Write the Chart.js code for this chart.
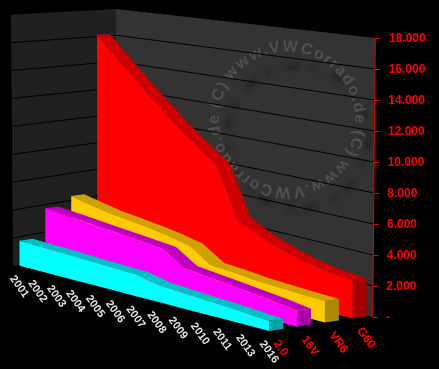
<!DOCTYPE html>
<html>
<head>
<meta charset="utf-8">
<style>html,body{margin:0;padding:0;background:#000}canvas{display:block}</style>
<script src="https://cdn.jsdelivr.net/npm/chart.js@4"></script>
</head>
<body>
<canvas id="c" width="439" height="369"></canvas>
<script>
// ---- data ----
const years = ['2001','2002','2003','2004','2005','2006','2007','2008','2009','2010','2011','2013','2016'];
const seriesNames = ['2.0','16V','VR6','G60'];
const valuesCyan    = [1790,1735,1680,1620,1560,1505,1440,1125,1020,925,840,740,635];
const valuesMagenta = [3850,3700,3550,3370,3230,3070,2890,1950,1770,1600,1420,1240,1010];
const valuesGold    = [4490,4170,3860,3670,3460,3200,2870,1890,1770,1600,1520,1440,1370];
const valuesRed     = [16430,14900,13390,12020,10620,9410,8230,4710,3950,3340,2900,2610,2420];
const tickValues = [0,2000,4000,6000,8000,10000,12000,14000,16000,18000];
const watermark = 'www.VWCorrado.de (C) ';

// ---- look ----
const faces = [
  {front:'#00FFFF', top:'#00C0C0', end:'#00A6A6'},
  {front:'#FF00FF', top:'#C000C0', end:'#A600A6'},
  {front:'#FFCC00', top:'#CCA300', end:'#AB8900'},
  {front:'#FF0000', top:'#CC0000', end:'#A80000'}
];
const W = 439, H = 369, AXIS_RIGHT = 376;
const Y0 = 317, PX_PER_K = 15.5;
const Y_MIN = -(H - Y0) / PX_PER_K * 1000, Y_MAX = Y0 / PX_PER_K * 1000;
const lerp = (a, b, t) => a + (b - a) * t;
const N = years.length - 1, K = 1.146;
const persp = i => i / (i + K * (N - i));
const toAxis = py => (Y0 - py) / PX_PER_K * 1000;

// 3D projection: category index i, depth d, value v -> scale coordinates
function project(i, d, v) {
  const u = persp(i);
  const bx = lerp(19.5 + 12.93 * d, 269.3 + 13.91 * d, u);
  const by = lerp(265.7 - 2.3 * d, 331 - 2.1 * d, u);
  const s = lerp(13.95 - 0.12 * d, 16.2 - 0.1 * d, u);
  return {x: bx, y: toAxis(by - v / 1000 * s)};
}

function poly(points, color) {
  return {data: points.concat([points[0]]), showLine: true, fill: 'shape', tension: 0,
    backgroundColor: color, borderColor: color, borderWidth: 0, pointRadius: 0, pointHoverRadius: 0, clip: false};
}

function seriesPolys(values, s, look) {
  const d = s * 2;
  const frontTop = values.map((v, i) => project(i, d, v));
  const backTop = values.map((v, i) => project(i, d + 1, v));
  const frontBase = values.map((v, i) => project(i, d, 0));
  return [
    poly(frontTop.concat(frontBase.slice().reverse()), look.front),
    poly([frontTop[N], backTop[N], project(N, d + 1, 0), frontBase[N]], look.end),
    poly(frontTop.concat(backTop.slice().reverse()), look.top)
  ];
}

const allValues = [valuesCyan, valuesMagenta, valuesGold, valuesRed];
// the first dataset is painted last, so the nearest series come first
const datasets = allValues.flatMap((vals, s) => seriesPolys(vals, s, faces[s]));

const wallPlugin = {
  id: 'walls',
  beforeDatasetsDraw(chart) {
    const c = chart.ctx, ys = chart.scales.y;
    const L = {tx: 11, ty: 14.7, bx: 13, by: 266};
    const M = {tx: 116, ty: 9, bx: 116, by: 245};
    const R = {tx: 375.3, ty: ys.getPixelForValue(18000), bx: 372.7, by: ys.getPixelForValue(0)};
    const quad = (a, b, col) => {
      c.fillStyle = col; c.beginPath();
      c.moveTo(a.tx, a.ty); c.lineTo(b.tx, b.ty); c.lineTo(b.bx, b.by); c.lineTo(a.bx, a.by);
      c.closePath(); c.fill();
    };
    c.save();
    quad(L, M, '#202020');
    quad(M, R, '#333333');

    // watermark, clipped to the back wall
    c.save();
    c.beginPath();
    c.moveTo(M.tx, M.ty); c.lineTo(R.tx, R.ty); c.lineTo(R.bx, R.by); c.lineTo(M.bx, M.by); c.closePath();
    c.clip();
    c.save();
    c.filter = 'blur(2.5px)';
    c.strokeStyle = 'rgba(20,20,20,0.45)';
    c.lineWidth = 6;
    c.setLineDash([14, 10, 6, 16]);
    c.beginPath(); c.arc(298, 137, 71, 0, Math.PI * 2); c.stroke();
    c.restore();
    c.fillStyle = '#515151';
    c.font = 'bold 16px "Liberation Sans", Arial, sans-serif';
    c.textAlign = 'left'; c.textBaseline = 'alphabetic';
    const wmCx = 287, wmCy = 119.5, wmR = 68;
    const text = watermark + watermark;
    const total = c.measureText(text).width;
    const stretch = (Math.PI * 2) / total;
    const cIdx = watermark.indexOf('(C)');
    const before = c.measureText(watermark.slice(0, cIdx)).width + c.measureText('(C)').width / 2;
    let ang = 18.5 * Math.PI / 180 - before * stretch;
    for (const ch of text) {
      const w = c.measureText(ch).width;
      const a = ang + w * stretch / 2;
      c.save();
      c.translate(wmCx + Math.cos(a) * wmR, wmCy + Math.sin(a) * wmR);
      c.rotate(a + Math.PI / 2);
      c.fillText(ch, -w / 2, 0);
      c.restore();
      ang += w * stretch;
    }
    c.restore();

    // grid lines on both walls
    c.strokeStyle = '#000'; c.lineWidth = 1;
    for (const v of tickValues) {
      if (v === 0 || v === 18000) continue;
      const f = v / 18000;
      c.beginPath();
      c.moveTo(lerp(L.bx, L.tx, f), lerp(L.by, L.ty, f));
      c.lineTo(lerp(M.bx, M.tx, f), lerp(M.by, M.ty, f));
      c.lineTo(lerp(R.bx, R.tx, f), lerp(R.by, R.ty, f));
      c.stroke();
    }

    // slanted value axis
    c.strokeStyle = '#E00000';
    c.beginPath(); c.moveTo(R.tx, R.ty); c.lineTo(R.bx, R.by); c.stroke();
    c.strokeStyle = '#FF0000';
    for (const v of tickValues) {
      const py = ys.getPixelForValue(v), px = lerp(R.bx, R.tx, v / 18000);
      c.beginPath(); c.moveTo(px, py + 0.5); c.lineTo(px + 5, py + 0.5); c.stroke();
    }
    c.restore();
  },
  afterDatasetsDraw(chart) {
    const c = chart.ctx, xs = chart.scales.x, ys = chart.scales.y;
    c.save();
    c.textAlign = 'left'; c.textBaseline = 'middle';
    const ROT = 54 * Math.PI / 180;
    const put = (txt, p, dx, dy) => {
      c.save();
      c.translate(xs.getPixelForValue(p.x) + dx, ys.getPixelForValue(p.y) + dy);
      c.rotate(ROT);
      c.fillText(txt, 0, 0);
      c.restore();
    };
    c.fillStyle = '#E6E6E6';
    c.font = 'bold 11px "Liberation Sans", Arial, sans-serif';
    years.forEach((y, i) => put(y, project(i, 0, 0), -7.5, 11));
    c.fillStyle = '#FF0000';
    c.font = 'bold 12px "Liberation Sans", Arial, sans-serif';
    seriesNames.forEach((n, s) => put(n, project(N, s * 2, 0), 6.5, 10.5));
    c.restore();
  }
};

const axisLabelPlugin = {
  id: 'axisLabelSlant',
  beforeDraw(chart) {
    const ys = chart.scales.y;
    ys.getLabelItems().forEach((it, idx) => {
      const o = it.options || it;
      const v = ys.ticks[idx].value;
      o.translation[0] = lerp(386, 389, v / 18000);
      o.translation[1] = ys.getPixelForValue(v) + 1;
    });
  }
};

new Chart(document.getElementById('c'), {
  type: 'scatter',
  data: {datasets},
  plugins: [wallPlugin, axisLabelPlugin],
  options: {
    responsive: false,
    animation: false,
    events: [],
    layout: {padding: 0, autoPadding: false},
    plugins: {legend: {display: false}, tooltip: {enabled: false}, title: {display: false}},
    scales: {
      x: {type: 'linear', min: 0, max: AXIS_RIGHT, display: false},
      y: {
        type: 'linear', position: 'right', min: Y_MIN, max: Y_MAX,
        grid: {display: false, drawTicks: false},
        border: {display: false},
        afterBuildTicks: s => { s.ticks = tickValues.map(value => ({value})); },
        afterFit: s => { s.width = W - AXIS_RIGHT; s.paddingTop = 0; s.paddingBottom = 0; },
        ticks: {
          autoSkip: false, color: '#FF0000', padding: 10,
          font: {family: '"Liberation Sans", Arial, sans-serif', size: 12, weight: 'bold'},
          callback: v => v === 0 ? '-' : String(v).replace(/\B(?=(\d{3})+$)/g, '.')
        }
      }
    }
  }
});
</script>
</body>
</html>
